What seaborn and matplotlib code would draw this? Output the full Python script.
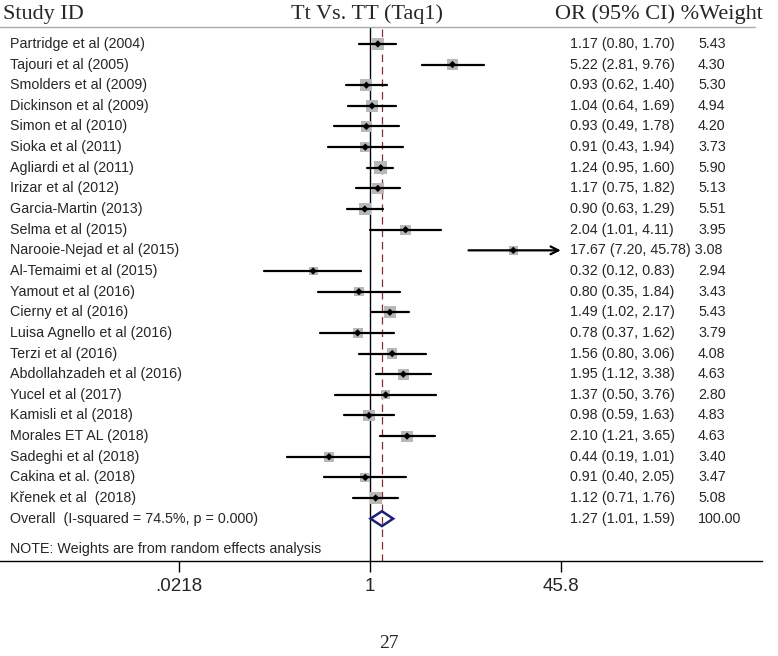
import numpy as np
import pandas as pd
import matplotlib
matplotlib.use('Agg')
import matplotlib.pyplot as plt
import matplotlib.transforms as mtransforms
import seaborn as sns

# study data
studies = ['Partridge et al (2004)', 'Tajouri et al (2005)', 'Smolders et al (2009)',
           'Dickinson et al (2009)', 'Simon et al (2010)', 'Sioka et al (2011)',
           'Agliardi et al (2011)', 'Irizar et al (2012)', 'Garcia-Martin (2013)',
           'Selma et al (2015)', 'Narooie-Nejad et al (2015)', 'Al-Temaimi et al (2015)',
           'Yamout et al (2016)', 'Cierny et al (2016)', 'Luisa Agnello et al (2016)',
           'Terzi et al (2016)', 'Abdollahzadeh et al (2016)', 'Yucel et al (2017)',
           'Kamisli et al (2018)', 'Morales ET AL (2018)', 'Sadeghi et al (2018)',
           'Cakina et al. (2018)', 'Křenek et al  (2018)']
odds = [1.17, 5.22, 0.93, 1.04, 0.93, 0.91, 1.24, 1.17, 0.90, 2.04, 17.67, 0.32,
        0.80, 1.49, 0.78, 1.56, 1.95, 1.37, 0.98, 2.10, 0.44, 0.91, 1.12]
lower = [0.80, 2.81, 0.62, 0.64, 0.49, 0.43, 0.95, 0.75, 0.63, 1.01, 7.20, 0.12,
         0.35, 1.02, 0.37, 0.80, 1.12, 0.50, 0.59, 1.21, 0.19, 0.40, 0.71]
upper = [1.70, 9.76, 1.40, 1.69, 1.78, 1.94, 1.60, 1.82, 1.29, 4.11, 45.78, 0.83,
         1.84, 2.17, 1.62, 3.06, 3.38, 3.76, 1.63, 3.65, 1.01, 2.05, 1.76]
weights = [5.43, 4.30, 5.30, 4.94, 4.20, 3.73, 5.90, 5.13, 5.51, 3.95, 3.08, 2.94,
           3.43, 5.43, 3.79, 4.08, 4.63, 2.80, 4.83, 4.63, 3.40, 3.47, 5.08]

overall_label = 'Overall  (I-squared = 74.5%, p = 0.000)'
overall_or, overall_lo, overall_hi = 1.27, 1.01, 1.59
tick_vals = [0.0218, 1, 45.8]
tick_labels = ['.0218', '1', '45.8']

df = pd.DataFrame({'study': studies, 'OR': odds, 'lo': lower, 'hi': upper, 'w': weights})
df['row'] = np.arange(len(df))
n = len(df)

sns.set_style('white')
plt.rcParams['font.family'] = ['Liberation Sans', 'DejaVu Sans']
fs = 10.3

fig = plt.figure(figsize=(7.78, 6.56), dpi=100)
ax = fig.add_axes([0, 95 / 656, 762 / 778, 534 / 656])
ax.set_xscale('log')
ax.set_xlim(np.exp(-7.415), np.exp(7.856))
ax.set_ylim(25.05, -0.82)

# reference lines
ax.axvline(1, color='black', lw=1, zorder=1)
ax.plot([overall_or, overall_or], [-0.7, 25.05], color='#8b2a2a', lw=0.9, ls=(0, (6, 4)), zorder=1)

# confidence intervals
for _, r in df.iterrows():
    if r['hi'] > 40:
        ax.annotate('', xy=(r['hi'], r['row']), xytext=(r['lo'], r['row']),
                    arrowprops=dict(arrowstyle='->', color='black', lw=1.6,
                                    mutation_scale=14, shrinkA=0, shrinkB=0), zorder=3)
    else:
        ax.plot([r['lo'], r['hi']], [r['row'], r['row']], color='black', lw=1.6, zorder=3)

# weight boxes and point estimates
sns.scatterplot(data=df, x='OR', y='row', size='w', sizes=(14 * min(weights), 14 * max(weights)),
                marker='s', color='#b8b8b8', edgecolor='none', legend=False, ax=ax, zorder=2)
sns.scatterplot(data=df, x='OR', y='row', marker='D', s=14, color='black',
                edgecolor='none', legend=False, ax=ax, zorder=4)

# overall diamond
h = 0.36
ax.fill([overall_lo, overall_or, overall_hi, overall_or, overall_lo],
        [n, n - h, n, n + h, n], facecolor='none', edgecolor='#1b1f7a', lw=1.8, zorder=4)

# text columns
tr = mtransforms.blended_transform_factory(ax.transAxes, ax.transData)
for _, r in df.iterrows():
    ax.text(10 / 762, r['row'], r['study'], transform=tr, va='center', fontsize=fs)
    ci = f"{r['OR']:.2f} ({r['lo']:.2f}, {r['hi']:.2f})"
    if len(ci) > 17:
        ax.text(570 / 762, r['row'], ci + ' ' + f"{r['w']:.2f}", transform=tr,
                va='center', fontsize=fs)
    else:
        ax.text(570 / 762, r['row'], ci, transform=tr, va='center', fontsize=fs)
        ax.text(698 / 762, r['row'], f"{r['w']:.2f}", transform=tr, va='center', fontsize=fs)
ax.text(10 / 762, n, overall_label, transform=tr, va='center', fontsize=fs)
ax.text(570 / 762, n, f'{overall_or:.2f} ({overall_lo:.2f}, {overall_hi:.2f})', transform=tr,
        va='center', fontsize=fs)
ax.text(698 / 762, n, '100.00', transform=tr, va='center', fontsize=fs)
ax.text(10 / 762, n + 1.45, 'NOTE: Weights are from random effects analysis', transform=tr,
        va='center', fontsize=fs)

# axis styling
for side in ['top', 'left', 'right']:
    ax.spines[side].set_visible(False)
ax.spines['bottom'].set_color('black')
ax.spines['bottom'].set_linewidth(1)
ax.set_xticks(tick_vals)
ax.set_xticklabels(tick_labels, fontsize=13.5)
ax.xaxis.set_minor_locator(matplotlib.ticker.NullLocator())
ax.tick_params(axis='x', direction='out', length=8, width=1, color='black', pad=4, bottom=True)
ax.set_yticks([])
ax.set_xlabel('')
ax.set_ylabel('')

# header
ax.plot([0, 755 / 762], [-0.82, -0.82], transform=tr, color='#aaaaaa', lw=1, clip_on=False)
serif = ['Liberation Serif', 'DejaVu Serif']
fig.text(3 / 778, 1 - 14 / 656, 'Study ID', family=serif, fontsize=16, va='center')
fig.text(367 / 778, 1 - 14 / 656, 'Tt Vs. TT (Taq1)', family=serif, fontsize=16,
         va='center', ha='center')
fig.text(555 / 778, 1 - 14 / 656, 'OR (95% CI) %Weight', family=serif, fontsize=16, va='center')
fig.text(389 / 778, 1 - 643 / 656, '27', family=serif, fontsize=14, va='center', ha='center')

fig.savefig('out.png', dpi=100, facecolor='white')
